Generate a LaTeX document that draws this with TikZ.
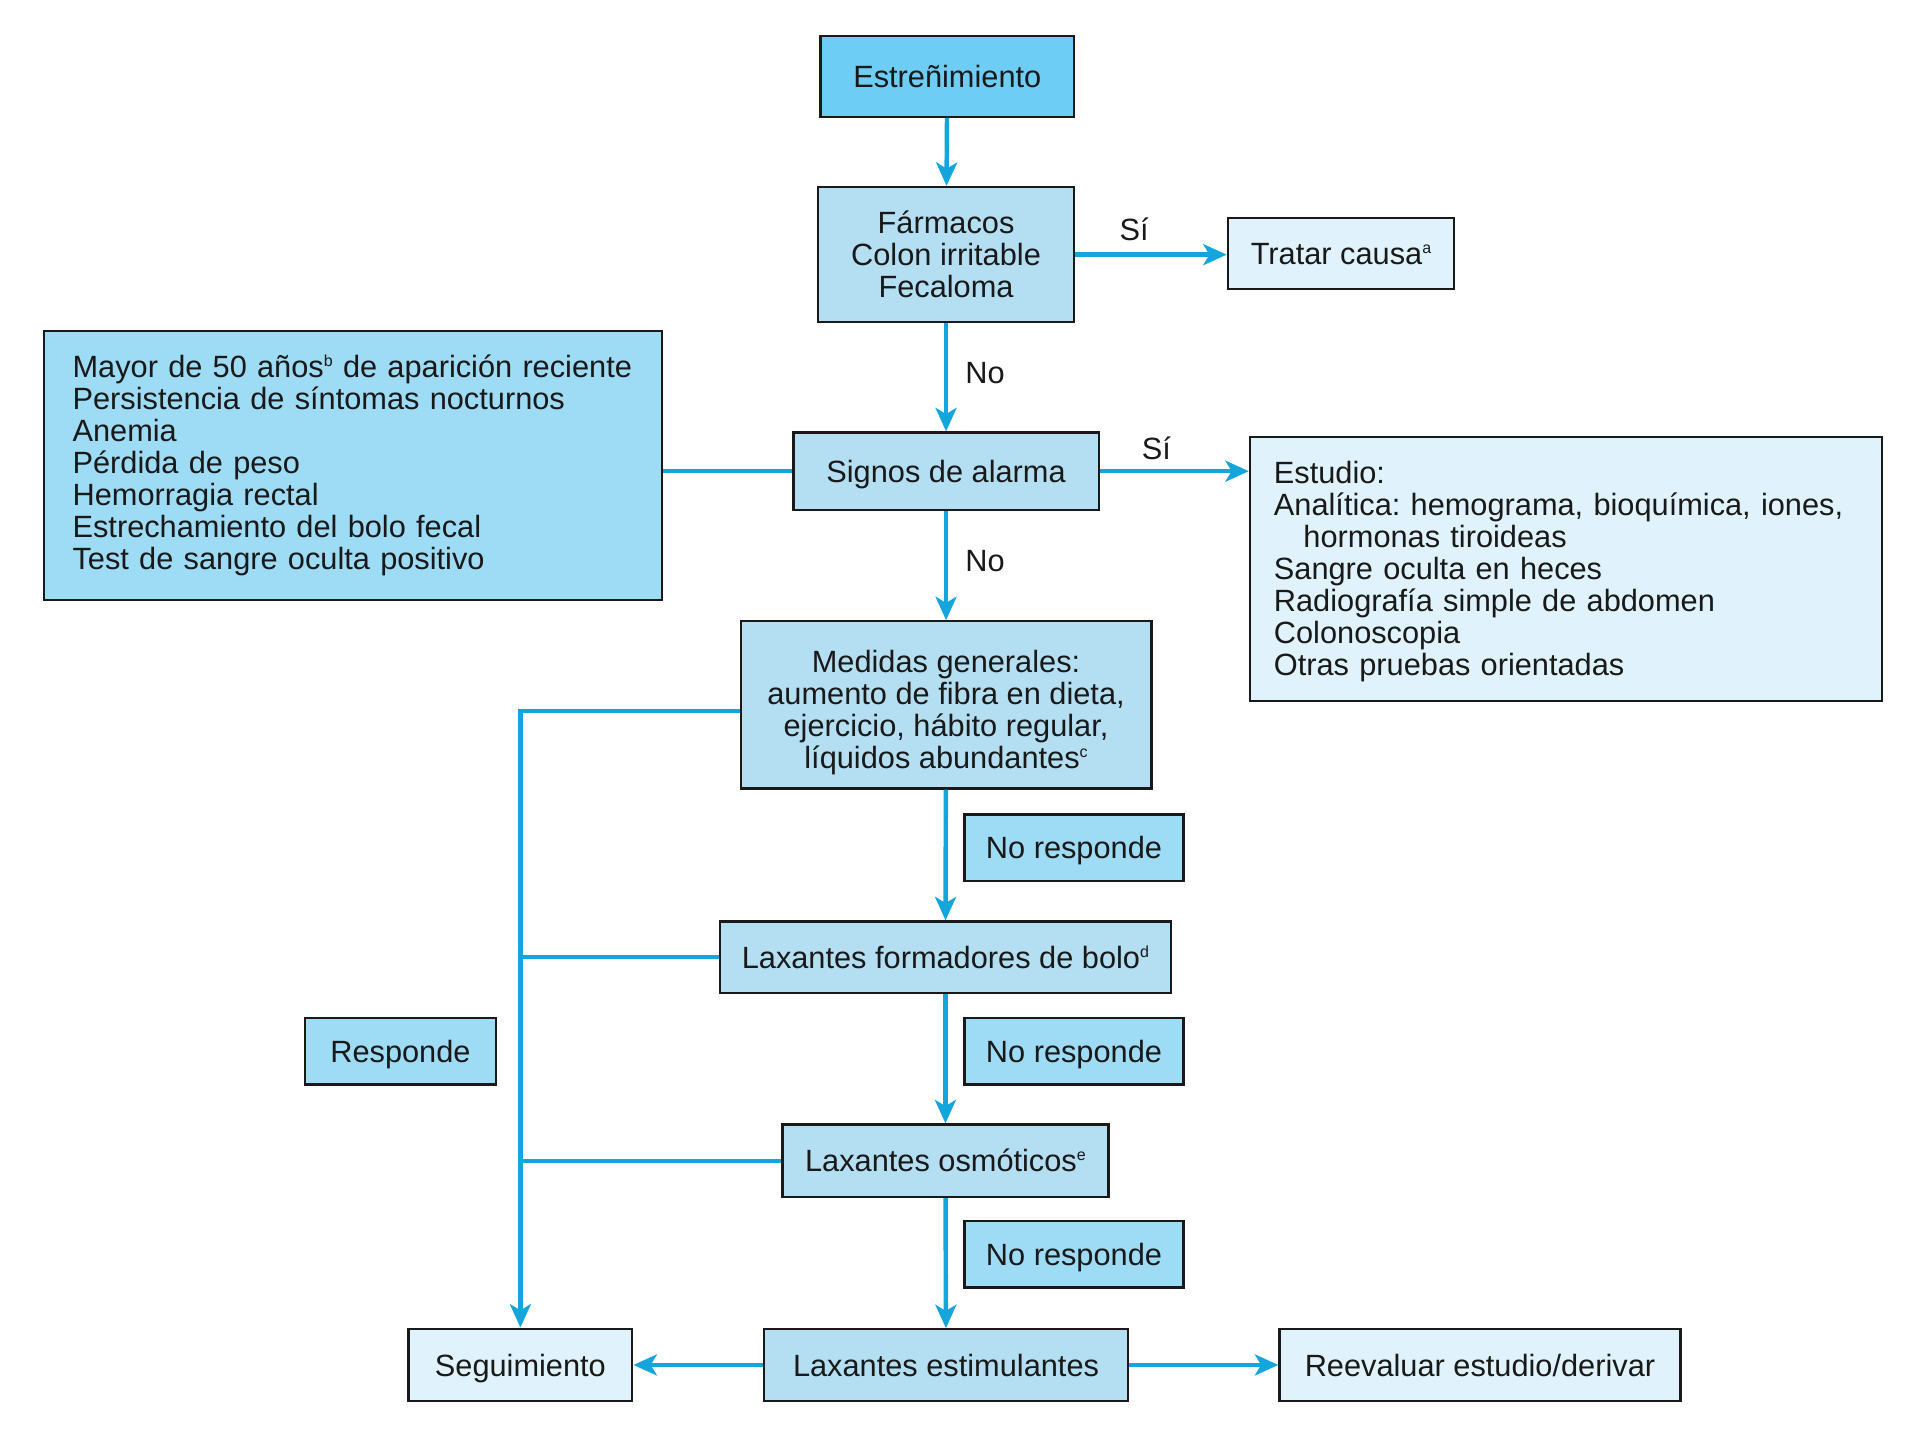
\documentclass[tikz,border=0pt]{standalone}
\usepackage{fontspec}
\setmainfont{Liberation Sans}
\usetikzlibrary{arrows.meta}
\definecolor{cTop}{RGB}{110,205,245}
\definecolor{cMid}{RGB}{180,223,242}
\definecolor{cBright}{RGB}{158,219,245}
\definecolor{cPale}{RGB}{224,243,252}
\definecolor{cLine}{RGB}{20,165,220}
\newcommand{\supx}[1]{\raisebox{4.5pt}{\fontsize{6.5pt}{7pt}\selectfont #1}}
\frenchspacing
\begin{document}
\begin{tikzpicture}[x=0.5pt,y=-0.5pt,
  every node/.style={font=\fontsize{12.5pt}{13pt}\selectfont\frenchspacing, text=black!90},
  box/.style={draw=black!90, line width=0.9pt, rectangle, inner sep=0pt, align=center},
  one/.style={text height=11pt, text depth=2pt},
  topbox/.style={box, fill=cTop},
  midbox/.style={box, fill=cMid},
  brbox/.style={box, fill=cBright},
  palebox/.style={box, fill=cPale},
  conn/.style={draw=cLine, line width=1.8pt},
  arr/.style={conn, -{Stealth[length=9.5pt, width=8.5pt, inset=2.5pt]}},
  lbl/.style={inner sep=2pt, one}
]
\useasboundingbox (0,0) rectangle (1568,1168);

\node[topbox, one, minimum width=103pt, minimum height=33pt] (est) at (770,62) {Estreñimiento};
\node[midbox, minimum width=104pt, minimum height=55pt] (farm) at (769,207) {Fármacos\\Colon irritable\\Fecaloma};
\node[palebox, one, minimum width=92pt, minimum height=29pt] (trat) at (1090,206) {Tratar causa\supx{a}};
\node[brbox, minimum width=251pt, minimum height=109.5pt, text width=228pt, align=left] (alarm) at (287,378.5) {Mayor de 50 años\supx{b} de aparición reciente\\Persistencia de síntomas nocturnos\\Anemia\\Pérdida de peso\\Hemorragia rectal\\Estrechamiento del bolo fecal\\Test de sangre oculta positivo};
\node[midbox, one, minimum width=124pt, minimum height=31.5pt] (sig) at (769,383) {Signos de alarma};
\node[palebox, minimum width=257pt, minimum height=107.5pt, text width=237.5pt, align=left] (estud) at (1273,462.5) {\rule{0pt}{11pt}Estudio:\\Analítica: hemograma, bioquímica, iones,\\\hspace{12pt}hormonas tiroideas\\Sangre oculta en heces\\Radiografía simple de abdomen\\Colonoscopia\\Otras pruebas orientadas};
\node[midbox, minimum width=167pt, minimum height=68pt] (med) at (769,573) {\rule{0pt}{15pt}Medidas generales:\\aumento de fibra en dieta,\\ejercicio, hábito regular,\\líquidos abundantes\supx{c}};
\node[brbox, one, minimum width=89pt, minimum height=27pt] (nr1) at (873,689) {No responde};
\node[midbox, one, minimum width=183.5pt, minimum height=29pt] (lfb) at (768.5,778) {Laxantes formadores de bolo\supx{d}};
\node[brbox, one, minimum width=89pt, minimum height=27pt] (nr2) at (873,854.5) {No responde};
\node[brbox, one, minimum width=77.5pt, minimum height=27pt] (resp) at (325.5,854.5) {Responde};
\node[midbox, one, minimum width=132.5pt, minimum height=29.5pt] (losm) at (768.5,943.5) {Laxantes osmóticos\supx{e}};
\node[brbox, one, minimum width=89pt, minimum height=27pt] (nr3) at (873,1019.5) {No responde};
\node[palebox, one, minimum width=91pt, minimum height=29.5pt] (seg) at (423,1109.5) {Seguimiento};
\node[midbox, one, minimum width=148pt, minimum height=29pt] (lest) at (769,1109.5) {Laxantes estimulantes};
\node[palebox, one, minimum width=163pt, minimum height=29.5pt] (reev) at (1203,1109.5) {Reevaluar estudio/derivar};

\coordinate (tw) at (farm.east -| trat.west);
\coordinate (ew) at (sig.east -| estud.west);
\coordinate (ae) at (sig.west -| alarm.east);
\draw[arr] (est) -- (farm);
\draw[arr] (farm.east) -- node[lbl, pos=0.39, above=1pt] {Sí} (tw);
\draw[arr] (farm) -- node[lbl, pos=0.45, right=5pt] {No} (sig);
\draw[conn] (ae) -- (sig.west);
\draw[arr] (sig.east) -- node[lbl, pos=0.38, above=0pt] {Sí} (ew);
\draw[arr] (sig) -- node[lbl, pos=0.45, right=5pt] {No} (med);
\draw[arr] (med) -- (lfb);
\draw[arr] (lfb) -- (losm);
\draw[arr] (losm) -- (lest);
\draw[arr] (med.west) ++(0,5) coordinate (mw) -| (seg.north);
\coordinate (j2) at (seg.north |- lfb.west);
\coordinate (j3) at (seg.north |- losm.west);
\draw[conn] (lfb.west) -- (j2);
\draw[conn] (losm.west) -- (j3);
\draw[arr] (lest) -- (seg);
\draw[arr] (lest) -- (reev);
\end{tikzpicture}
\end{document}
